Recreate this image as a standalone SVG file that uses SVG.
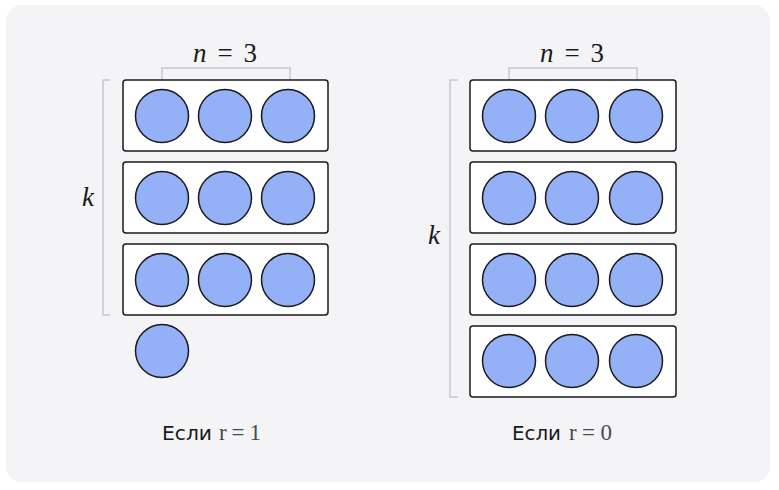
<svg xmlns="http://www.w3.org/2000/svg" width="779" height="490" viewBox="0 0 779 490">
<style>
.row{fill:#ffffff;stroke:#1a1a1a;stroke-width:1.5}
.ball{fill:#94b0f7;stroke:#1a1a1a;stroke-width:1.5}
.br{fill:none;stroke:#c8c8cc;stroke-width:1.5}
.math{font-family:"Liberation Serif","DejaVu Serif",serif;fill:#1a1a1a;font-size:27px}
.it{font-style:italic}
.lbl{font-family:"DejaVu Sans","Noto Sans",sans-serif;font-size:20px;fill:#1a1a1a}
.rm{font-family:"Liberation Serif","DejaVu Serif",serif;font-size:23px;fill:#4a4a4a}
</style>
<rect x="0" y="0" width="779" height="490" fill="#ffffff"/>
<rect x="6" y="5" width="764" height="477" rx="16" fill="#f4f4f6"/>
<g id="connectors">
<path class="br" d="M162,89 V68 H290 V89"/>
<path class="br" d="M110,80 H103 V315 H110"/>
<path class="br" d="M509,89 V68 H637 V89"/>
<path class="br" d="M458,80 H450 V397 H458"/>
</g>
<g id="left">
<g id="L-row1"><rect class="row" x="123" y="80" width="205" height="71" rx="3"/><circle class="ball" cx="162" cy="116" r="26.5"/><circle class="ball" cx="225" cy="116" r="26.5"/><circle class="ball" cx="288" cy="116" r="26.5"/></g>
<g id="L-row2"><rect class="row" x="123" y="162" width="205" height="71" rx="3"/><circle class="ball" cx="162" cy="198" r="26.5"/><circle class="ball" cx="225" cy="198" r="26.5"/><circle class="ball" cx="288" cy="198" r="26.5"/></g>
<g id="L-row3"><rect class="row" x="123" y="244" width="205" height="71" rx="3"/><circle class="ball" cx="162" cy="280" r="26.5"/><circle class="ball" cx="225" cy="280" r="26.5"/><circle class="ball" cx="288" cy="280" r="26.5"/></g>
<g id="L-extra"><circle class="ball" cx="162" cy="351" r="26.5"/></g>
<g id="L-n"><text class="math" x="193" y="62" textLength="64" lengthAdjust="spacing"><tspan class="it">n</tspan> = 3</text></g>
<g id="L-k"><text class="math it" x="88" y="206" text-anchor="middle">k</text></g>
<g id="L-cap"><text class="lbl" x="162" y="440" textLength="50" lengthAdjust="spacingAndGlyphs">Если</text><text class="rm" x="219" y="440" textLength="42" lengthAdjust="spacing">r=1</text></g>
</g>
<g id="right">
<g id="R-row1"><rect class="row" x="470" y="80" width="206" height="71" rx="3"/><circle class="ball" cx="509" cy="116" r="26.5"/><circle class="ball" cx="572" cy="116" r="26.5"/><circle class="ball" cx="636" cy="116" r="26.5"/></g>
<g id="R-row2"><rect class="row" x="470" y="162" width="206" height="71" rx="3"/><circle class="ball" cx="509" cy="198" r="26.5"/><circle class="ball" cx="572" cy="198" r="26.5"/><circle class="ball" cx="636" cy="198" r="26.5"/></g>
<g id="R-row3"><rect class="row" x="470" y="244" width="206" height="71" rx="3"/><circle class="ball" cx="509" cy="280" r="26.5"/><circle class="ball" cx="572" cy="280" r="26.5"/><circle class="ball" cx="636" cy="280" r="26.5"/></g>
<g id="R-row4"><rect class="row" x="470" y="326" width="206" height="71" rx="3"/><circle class="ball" cx="509" cy="361" r="26.5"/><circle class="ball" cx="572" cy="361" r="26.5"/><circle class="ball" cx="636" cy="361" r="26.5"/></g>
<g id="R-n"><text class="math" x="540" y="62" textLength="64" lengthAdjust="spacing"><tspan class="it">n</tspan> = 3</text></g>
<g id="R-k"><text class="math it" x="434" y="244" text-anchor="middle">k</text></g>
<g id="R-cap"><text class="lbl" x="512" y="440" textLength="49" lengthAdjust="spacingAndGlyphs">Если</text><text class="rm" x="569" y="440" textLength="43" lengthAdjust="spacing">r=0</text></g>
</g>
</svg>
